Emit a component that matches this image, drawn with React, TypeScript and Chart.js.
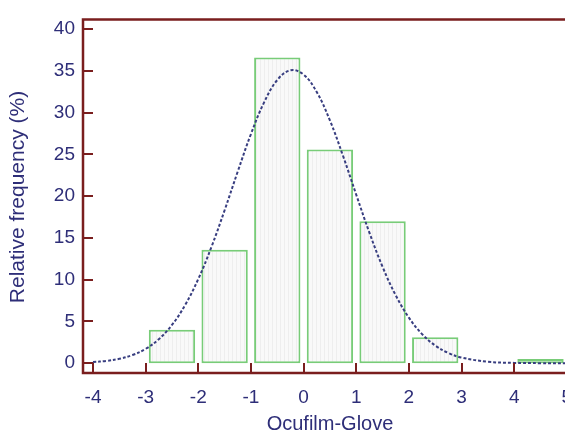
import React, { useEffect, useRef } from "react";
import { Chart, registerables } from "chart.js";

Chart.register(...registerables);

const binCenters = [-2.5, -1.5, -0.5, 0.5, 1.5, 2.5, 4.5];
const binFreq = [4.0, 13.6, 36.6, 25.6, 17.0, 3.1, 0.5];

const curveX = [-4, -3.75, -3.5, -3.25, -3, -2.75, -2.5, -2.25, -2, -1.75, -1.5, -1.25, -1, -0.75, -0.5, -0.25, 0, 0.25, 0.5, 0.75, 1, 1.25, 1.5, 1.75, 2, 2.25, 2.5, 2.75, 3, 3.5, 4, 4.5, 5, 5.25];
const curveY = [0.14, 0.28, 0.53, 0.98, 1.72, 2.88, 4.59, 6.97, 10.09, 13.93, 18.32, 22.97, 27.44, 31.24, 33.91, 35.07, 34.56, 32.47, 29.07, 24.81, 20.17, 15.63, 11.54, 8.13, 5.46, 3.49, 2.12, 1.23, 0.68, 0.18, 0.04, 0.01, 0.0, 0.0];

const xTickValues = [-4, -3, -2, -1, 0, 1, 2, 3, 4, 5];
const yTickValues = [0, 5, 10, 15, 20, 25, 30, 35, 40];

const xTitle = "Ocufilm-Glove";
const yTitle = "Relative frequency (%)";

const AXIS_COLOR = "#7a1e1e";
const TEXT_COLOR = "#2e2e78";
const FONT = "'Liberation Sans', Arial, sans-serif";

export default function App() {
  const ref = useRef<HTMLCanvasElement | null>(null);

  useEffect(() => {
    const canvas = ref.current!;
    const pc = document.createElement("canvas");
    pc.width = 4;
    pc.height = 4;
    const pctx = pc.getContext("2d")!;
    pctx.fillStyle = "#f9f9f9";
    pctx.fillRect(0, 0, 4, 4);
    pctx.fillStyle = "#eeeeee";
    pctx.fillRect(0, 0, 1, 4);
    const pattern = canvas.getContext("2d")!.createPattern(pc, "repeat")!;

    const framePlugin = {
      id: "frame",
      afterDatasetsDraw(chart: any) {
        const { ctx, chartArea, scales } = chart;
        const { left, top, bottom, right } = chartArea;
        ctx.save();
        ctx.strokeStyle = AXIS_COLOR;
        ctx.lineWidth = 2.5;
        ctx.beginPath();
        ctx.moveTo(right + 20, top);
        ctx.lineTo(left, top);
        ctx.lineTo(left, bottom);
        ctx.lineTo(right + 20, bottom);
        ctx.stroke();
        ctx.lineWidth = 2;
        ctx.beginPath();
        for (const v of yTickValues) {
          const y = Math.round(scales.y.getPixelForValue(v));
          ctx.moveTo(left, y);
          ctx.lineTo(left + 10, y);
        }
        for (const v of xTickValues) {
          const x = Math.round(scales.x.getPixelForValue(v));
          ctx.moveTo(x, bottom);
          ctx.lineTo(x, bottom - 10);
        }
        ctx.stroke();
        ctx.fillStyle = TEXT_COLOR;
        ctx.font = `20px ${FONT}`;
        ctx.textAlign = "center";
        ctx.textBaseline = "middle";
        ctx.fillText(xTitle, 330, 424);
        ctx.translate(18, 197);
        ctx.rotate(-Math.PI / 2);
        ctx.font = `21px ${FONT}`;
        ctx.fillText(yTitle, 0, 0);
        ctx.restore();
      },
    };

    const chart = new Chart(canvas, {
      type: "bar",
      data: {
        datasets: [
          {
            type: "line",
            data: curveX.map((x, i) => ({ x, y: curveY[i] })),
            borderColor: "#383e80",
            borderWidth: 2,
            borderDash: [3, 2],
            pointRadius: 0,
            tension: 0.4,
            fill: false,
            order: 0,
          } as any,
          {
            type: "bar",
            data: binCenters.map((x, i) => ({ x, y: binFreq[i] })),
            backgroundColor: pattern as any,
            borderColor: "#78cc78",
            borderWidth: 2,
            borderSkipped: false,
            barPercentage: 0.88,
            categoryPercentage: 1,
            order: 1,
          } as any,
        ],
      },
      options: {
        responsive: false,
        animation: false,
        layout: { padding: { left: 0, right: 20, top: 12, bottom: 0 } },
        plugins: { legend: { display: false }, tooltip: { enabled: false } },
        scales: {
          x: {
            type: "linear",
            min: -4.19,
            max: 5.25,
            offset: false,
            grid: { display: false, drawTicks: false },
            border: { display: false },
            afterBuildTicks: (s: any) => {
              s.ticks = xTickValues.map((v) => ({ value: v }));
            },
            afterFit: (s: any) => {
              s.height = 61;
            },
            ticks: {
              autoSkip: false,
              maxRotation: 0,
              padding: 13,
              color: TEXT_COLOR,
              font: { family: FONT, size: 19 },
              callback: (v: any) => String(v),
            },
          },
          y: {
            type: "linear",
            min: -1.17,
            max: 41.17,
            grid: { display: false, drawTicks: false },
            border: { display: false },
            afterBuildTicks: (s: any) => {
              s.ticks = yTickValues.map((v) => ({ value: v }));
            },
            afterFit: (s: any) => {
              s.width = 83;
            },
            ticks: {
              autoSkip: false,
              padding: 8,
              color: TEXT_COLOR,
              font: { family: FONT, size: 19 },
              callback: (v: any) => String(v),
            },
          },
        },
      },
      plugins: [framePlugin],
    });
    return () => chart.destroy();
  }, []);

  return (
    <div style={{ position: "fixed", left: 0, top: 0, width: 565, height: 434, overflow: "hidden", background: "#fff" }}>
      <canvas ref={ref} width={600} height={434} style={{ width: 600, height: 434, display: "block" }} />
    </div>
  );
}
